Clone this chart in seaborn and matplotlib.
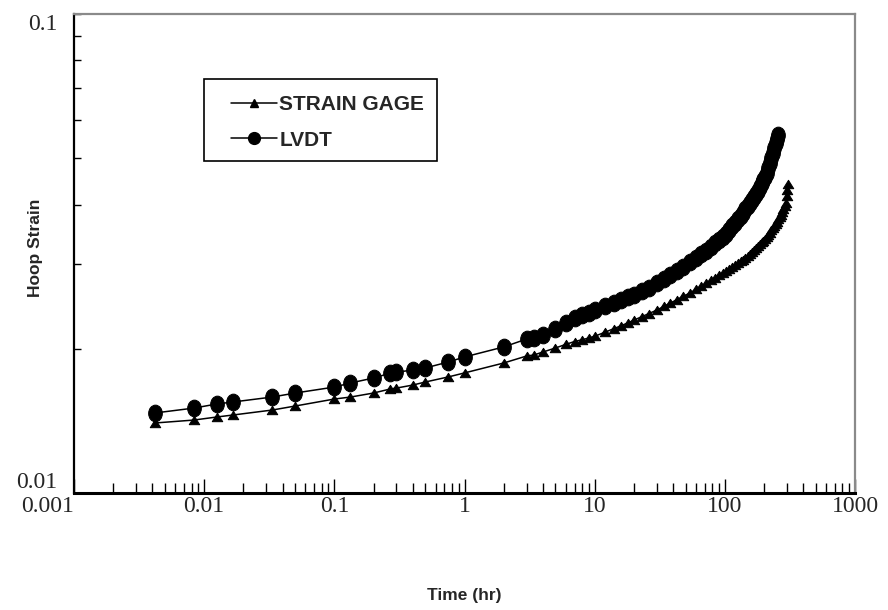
import matplotlib
matplotlib.use("Agg")
import matplotlib.pyplot as plt
from matplotlib.path import Path
from matplotlib.transforms import Affine2D
from matplotlib.ticker import FixedLocator, FixedFormatter, LogLocator, NullFormatter
from matplotlib.patches import Rectangle
from matplotlib.lines import Line2D
import seaborn as sns

# Creep test: elapsed time (hr) vs hoop strain
gage_time = [0.00417, 0.00833, 0.0125, 0.0167, 0.0333, 0.05, 0.1, 0.133, 0.2, 0.267,
             0.3, 0.4, 0.5, 0.75, 1, 2, 3, 3.4, 4, 5,
             6, 7, 8, 9, 10, 12, 14, 16, 18, 20, 23, 26, 30, 34, 38, 43, 48, 54, 60, 66,
             72, 78, 84, 90, 96, 102, 108, 114, 120, 126, 132, 138, 144, 150, 156, 162,
             168, 174, 180, 186, 192, 198, 204, 210, 216, 222, 228, 234, 240, 246, 252,
             258, 264, 270, 276, 282, 288, 294, 298, 301, 304]
gage_strain = [0.01400, 0.01420, 0.01441, 0.01455, 0.01490, 0.01519, 0.01571, 0.01586,
               0.01617, 0.01648, 0.01656, 0.01680, 0.01705, 0.01747, 0.01781, 0.01868,
               0.01932, 0.01941, 0.01969, 0.02008,
               0.02043, 0.02071, 0.02089, 0.02106, 0.02124, 0.02166, 0.02203, 0.02235,
               0.02266, 0.02295, 0.02334, 0.02368, 0.02409, 0.02452, 0.02491, 0.02534,
               0.02575, 0.02616, 0.02661, 0.02705, 0.02743, 0.02779, 0.02814, 0.02845,
               0.02877, 0.02907, 0.02936, 0.02966, 0.02994, 0.03020, 0.03046, 0.03071,
               0.03094, 0.03122, 0.03155, 0.03188, 0.03219, 0.03250, 0.03280, 0.03310,
               0.03339, 0.03366, 0.03394, 0.03420, 0.03459, 0.03498, 0.03541, 0.03576,
               0.03612, 0.03651, 0.03687, 0.03724, 0.03760, 0.03813, 0.03867, 0.03922,
               0.03978, 0.04033, 0.04169, 0.04291, 0.04417]

lvdt_time = [0.00417, 0.00833, 0.0125, 0.0167, 0.0333, 0.05, 0.1, 0.133, 0.2, 0.267,
             0.3, 0.4, 0.5, 0.75, 1, 2, 3, 3.4, 4, 5,
             6, 7, 8, 9, 10, 12, 14, 16, 18, 20, 23, 26, 30, 34, 38, 43, 48, 54, 60, 66,
             72, 78, 84, 90, 96, 102, 108, 114, 120, 126, 132, 138, 144, 150, 156, 162,
             168, 174, 180, 186, 192, 198, 204, 210, 216, 222, 228, 234, 240, 246, 252,
             256]
lvdt_strain = [0.01469, 0.01504, 0.01534, 0.01549, 0.01586, 0.01617, 0.01664, 0.01697,
               0.01738, 0.01778, 0.01786, 0.01807, 0.01824, 0.01877, 0.01923, 0.02018,
               0.02096, 0.02110, 0.02137, 0.02205,
               0.02269, 0.02315, 0.02349, 0.02379, 0.02406, 0.02452, 0.02491, 0.02528,
               0.02563, 0.02594, 0.02640, 0.02685, 0.02742, 0.02791, 0.02848, 0.02910,
               0.02968, 0.03036, 0.03097, 0.03156, 0.03208, 0.03266, 0.03323, 0.03376,
               0.03428, 0.03476, 0.03537, 0.03602, 0.03666, 0.03725, 0.03787, 0.03844,
               0.03909, 0.03972, 0.04031, 0.04092, 0.04150, 0.04207, 0.04275, 0.04353,
               0.04429, 0.04502, 0.04576, 0.04647, 0.04763, 0.04879, 0.05005, 0.05119,
               0.05243, 0.05371, 0.05494, 0.05579]

series_labels = ["STRAIN GAGE", "LVDT"]
x_ticks = [0.001, 0.01, 0.1, 1, 10, 100, 1000]
x_tick_labels = ["0.001", "0.01", "0.1", "1", "10", "100", "1000"]
y_ticks = [0.01, 0.1]
y_tick_labels = ["0.01", "0.1"]

sns.set_style("white")
plt.rcParams["font.family"] = ["Liberation Sans", "DejaVu Sans"]

fig = plt.figure(figsize=(8.88, 6.1), dpi=100)
ax = fig.add_axes([74 / 888, 1 - 493 / 610, 781 / 888, 479 / 610])

# slightly tall ellipse and flattened triangle markers
ellipse = Path.unit_circle().transformed(Affine2D().scale(0.82, 1.0))
triangle = Path([(0, 1), (-1, -1), (1, -1), (0, 1)], closed=True).transformed(
    Affine2D().scale(1.0, 0.8))

sns.lineplot(x=gage_time, y=gage_strain, ax=ax, sort=False, estimator=None,
             color="black", linewidth=1.1, marker=triangle, markersize=7.5,
             markerfacecolor="black", markeredgecolor="black", legend=False)
sns.lineplot(x=lvdt_time, y=lvdt_strain, ax=ax, sort=False, estimator=None,
             color="black", linewidth=1.1, marker=ellipse, markersize=12,
             markerfacecolor="black", markeredgecolor="black", legend=False)

ax.set_xscale("log")
ax.set_yscale("log")
ax.set_xlim(0.001, 1000)
ax.set_ylim(0.01, 0.1)

ax.xaxis.set_major_locator(FixedLocator(x_ticks))
ax.xaxis.set_major_formatter(FixedFormatter(x_tick_labels))
ax.xaxis.set_minor_locator(LogLocator(base=10, subs=[2, 3, 4, 5, 6, 7, 8, 9]))
ax.xaxis.set_minor_formatter(NullFormatter())
ax.yaxis.set_major_locator(FixedLocator(y_ticks))
ax.yaxis.set_major_formatter(FixedFormatter(y_tick_labels))
ax.yaxis.set_minor_locator(LogLocator(base=10, subs=[2, 3, 4, 5, 6, 7, 8, 9]))
ax.yaxis.set_minor_formatter(NullFormatter())

ax.tick_params(axis="x", which="major", direction="in", length=10, width=1,
               color="black", pad=2, bottom=True, top=False)
ax.tick_params(axis="x", which="minor", direction="in", length=7, width=1,
               color="black", bottom=True, top=False)
ax.tick_params(axis="y", which="both", direction="in", length=5, width=1,
               color="black", pad=12, left=True, right=False)
for lab in ax.get_xticklabels() + ax.get_yticklabels():
    lab.set_fontfamily(["Liberation Serif", "DejaVu Serif"])
    lab.set_fontsize(17)
ax.get_xticklabels()[0].set_horizontalalignment("right")
ylabs = ax.get_yticklabels()
ylabs[0].set_verticalalignment("bottom")
ylabs[1].set_verticalalignment("top")

for side in ("bottom", "left"):
    ax.spines[side].set_color("black")
ax.spines["bottom"].set_linewidth(2.2)
ax.spines["left"].set_linewidth(1.6)
for side in ("top", "right"):
    ax.spines[side].set_color("#8a8a8a")
    ax.spines[side].set_linewidth(1.6)

ax.set_xlabel("Time (hr)", fontsize=12.5, fontweight="bold", labelpad=51)
ax.set_ylabel("Hoop Strain", fontsize=12.5, fontweight="bold")
ax.yaxis.set_label_coords(-0.040, 0.511)

# legend with a square black frame
frame = Rectangle((204 / 888, 1 - 161 / 610), 233 / 888, 82 / 610,
                  transform=fig.transFigure, facecolor="white", edgecolor="black",
                  linewidth=1.2, clip_on=False, zorder=4)
ax.add_patch(frame)
handles = [
    Line2D([], [], color="black", linewidth=1.1, marker="^", markersize=6),
    Line2D([], [], color="black", linewidth=1.1, marker="o", markersize=8.5),
]
leg = ax.legend(handles, series_labels, loc="upper left",
                bbox_to_anchor=(231 / 888, 1 - 95 / 610), bbox_transform=fig.transFigure,
                frameon=False, borderpad=0, borderaxespad=0, handlelength=2.2,
                handletextpad=0.12, labelspacing=0.8,
                prop={"weight": "bold", "size": 15})
leg.set_zorder(5)

fig.savefig("out.png", dpi=100)
